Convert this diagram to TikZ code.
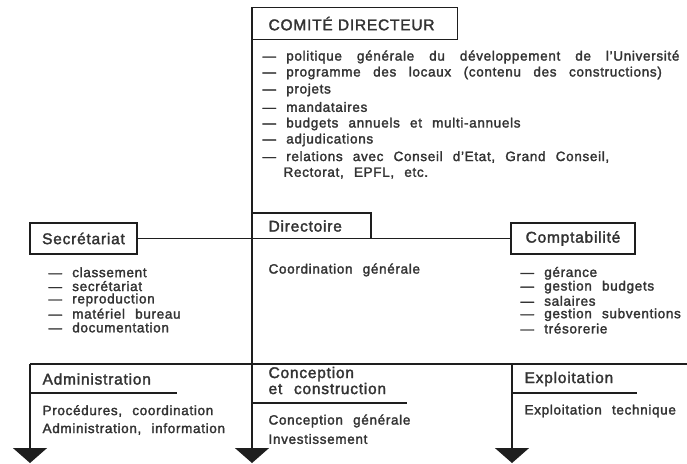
\documentclass[tikz,border=0pt]{standalone}
\usepackage{fontspec}
\setmainfont[LetterSpace=5,WordSpace=2.3,FakeBold=2]{Liberation Sans}
\usetikzlibrary{arrows.meta,positioning}
\definecolor{ink}{HTML}{1E1E1E}
\definecolor{print}{HTML}{333333}

\tikzset{
  head/.style={font=\fontsize{15.5}{17}\selectfont,text=print,inner sep=0pt,anchor=west},
  box/.style={draw=ink,line width=1.2pt,minimum height=31pt,inner xsep=11pt,font=\fontsize{15.5}{17}\selectfont,text=print},
  item/.style={anchor=west,inner sep=0pt,text=print},
}

\begin{document}
\begin{tikzpicture}[x=1pt,y=-1pt,line width=1.2pt,draw=ink,>={Triangle[width=34pt,length=15pt]},font=\fontsize{13.5}{15}\selectfont]
        \useasboundingbox (0,0) rectangle (687,463);

        % top box
        \node[box,anchor=north west,minimum width=205pt,minimum height=32pt,inner xsep=16pt,text width=173pt,align=left] (comite) at (252,7) {COMITÉ DIRECTEUR};
        \coordinate (mainend) at (252,463);
        \draw[->] (comite.north west) -- (mainend);

        \node[item] (c1) at (262,57) {— {\spaceskip=15pt\relax politique générale du développement de l'Université}};
        \node[item] (c2) at (262,73) {— {\spaceskip=12.5pt\relax programme des locaux (contenu des constructions)}};
        \foreach \y/\txt [count=\i from 3] in {90/projets,107/mandataires,124/budgets annuels et multi-annuels,140/adjudications,{157/relations avec Conseil d'Etat, Grand Conseil,}}
          \node[item] (c\i) at (262,\y) {— \txt};
        \node[item] (c8) at (283,173) {Rectorat, EPFL, etc.};

        % middle level
        \coordinate (dirtop) at (252,213);
        \coordinate (dircorner) at (371,238);
        \draw (dirtop) -| (dircorner);
        \node[head] (directoire) at (268,226) {Directoire};
        \node[item] (coord) at (268,270) {Coordination générale};

        \node[box,minimum width=107pt] (secretariat) at (83.5,238.5) {Secrétariat};
        \node[box,minimum width=124pt] (comptabilite) at (573,238.5) {Comptabilité};
        \draw (secretariat.east) -- (comptabilite.west);

        \foreach \txt [count=\i] in {classement,secrétariat,reproduction,matériel bureau,documentation}
          \node[item] (s\i) at (48,258.5+13.8*\i) {— \txt};
        \foreach \txt [count=\i] in {gérance,gestion budgets,salaires,gestion subventions,trésorerie}
          \node[item] (k\i) at (520,259.5+13.8*\i) {— \txt};

        % bottom level
        \coordinate (leftstart) at (30,364);
        \coordinate (rightend) at (687,364);
        \coordinate (expstart) at (512,364);
        \draw (leftstart) -- (rightend);
        \coordinate (leftend) at (30,463);
        \coordinate (expend) at (512,463);
        \draw[->] (leftstart) -- (leftend);
        \draw[->] (expstart) -- (expend);

        \node[head] (admin) at (42,379) {Administration};
        \draw (30,393) -- (177,393);
        \node[item] (a1) at (42,411) {Procédures, coordination};
        \node[item] (a2) at (42,429) {Administration, information};

        \node[head,align=left] (concept) at (268,380.5) {Conception\\[-1pt]et construction};
        \draw (252,403) -- (407,403);
        \node[item] (b1) at (268,421) {Conception générale};
        \node[item] (b2) at (268,439) {Investissement};

        \node[head] (exploit) at (524,379) {Exploitation};
        \draw (512,393) -- (637,393);
        \node[item] (e1) at (524,411) {Exploitation technique};
\end{tikzpicture}
\end{document}
